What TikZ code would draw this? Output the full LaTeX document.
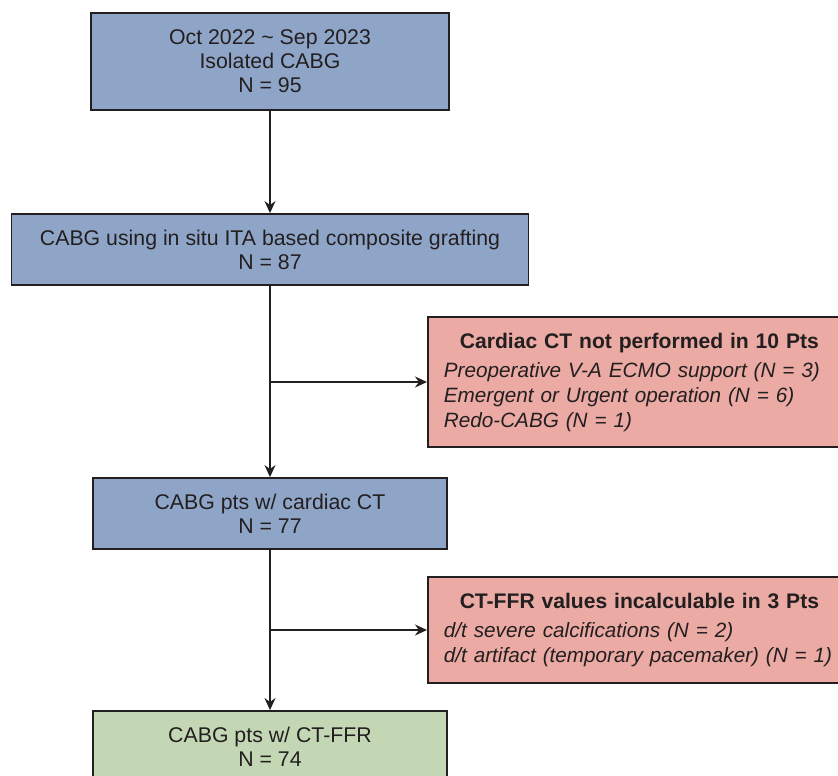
\documentclass[tikz,border=0pt]{standalone}
\usepackage{fontspec}
\setmainfont{Liberation Sans}
\usetikzlibrary{arrows.meta,positioning}
\definecolor{ink}{HTML}{231F20}
\definecolor{stepblue}{HTML}{8FA5C8}
\definecolor{droppink}{HTML}{EBAAA3}
\definecolor{finalgreen}{HTML}{C3D7B5}
\newlength{\dropw}
\setlength{\dropw}{391pt}

\begin{document}
\begin{tikzpicture}[x=1pt,y=-1pt,font=\fontsize{21.3}{24}\selectfont,
  flowbox/.style={draw=ink,line width=1.8pt,text=ink,align=center,inner sep=0pt},
  dropbox/.style={draw=ink,line width=1.8pt,fill=droppink,text=ink,align=left,
                  text width=\dropw,inner sep=16pt,anchor=west,
                  font=\fontsize{20.7}{25}\selectfont},
  flow/.style={draw=ink,line width=1.6pt,-{Stealth[length=12pt,width=11pt]}}]
  \useasboundingbox (0,0) rectangle (838,776);
  \clip (0,0) rectangle (838,776);

  \node[flowbox,fill=stepblue,minimum width=358pt,minimum height=97pt]
       (isolated) at (270,61.5) {Oct 2022 \textasciitilde{} Sep 2023\\Isolated CABG\\N = 95};
  \node[flowbox,fill=stepblue,minimum width=517pt,minimum height=71pt]
       (composite) at (270,249.5) {CABG using in situ ITA based composite grafting\\N = 87};
  \node[flowbox,fill=stepblue,minimum width=354pt,minimum height=71pt]
       (withct) at (270,513.5) {CABG pts w/ cardiac CT\\N = 77};
  \node[flowbox,fill=finalgreen,minimum width=354pt,minimum height=72pt]
       (withffr) at (270,747) {CABG pts w/ CT-FFR\\N = 74};

  \node[dropbox,minimum height=128pt] (noct) at (427,382)
       {\makebox[\dropw]{\fontsize{21.1}{25}\selectfont\bfseries Cardiac CT not performed in 10 Pts}\\[4pt]
        \itshape Preoperative V-A ECMO support (N = 3)\\
        Emergent or Urgent operation (N = 6)\\
        Redo-CABG (N = 1)};
  \node[dropbox,minimum height=106pt] (noffr) at (427,630)
       {\makebox[\dropw]{\fontsize{21.1}{25}\selectfont\bfseries CT-FFR values incalculable in 3 Pts}\\[4pt]
        \itshape d/t severe calcifications (N = 2)\\
        d/t artifact (temporary pacemaker) (N = 1)};

  \draw[flow] (isolated.south) -- (isolated.south |- composite.north);
  \draw[flow] (composite.south) -- (composite.south |- withct.north);
  \draw[flow] (composite.south |- noct.west) -- (noct.west);
  \draw[flow] (withct.south) -- (withct.south |- withffr.north);
  \draw[flow] (withct.south |- noffr.west) -- (noffr.west);
\end{tikzpicture}
\end{document}
